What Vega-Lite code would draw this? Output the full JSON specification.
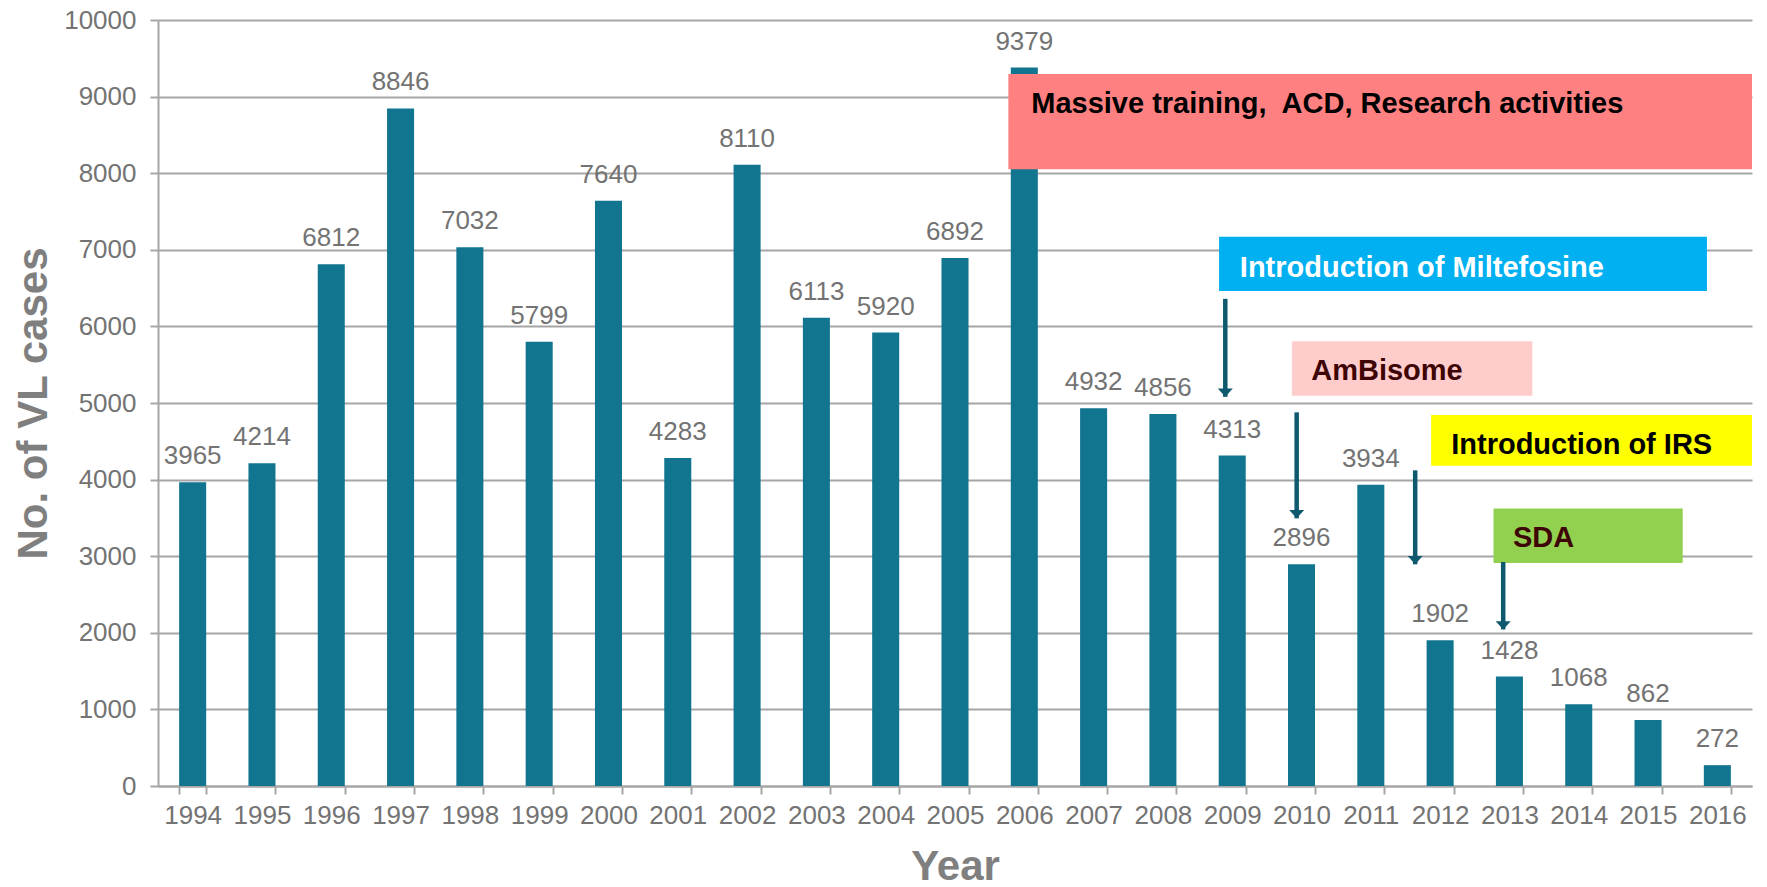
{
  "$schema": "https://vega.github.io/schema/vega-lite/v6.json",
  "width": 1594,
  "height": 766,
  "autosize": "none",
  "padding": {"left": 158, "top": 20, "right": 15, "bottom": 101},
  "background": "white",
  "config": {
    "font": "Liberation Sans",
    "view": {"stroke": null},
    "axisY": {
      "format": "d", "grid": true, "gridColor": "#a6a6a6", "gridWidth": 2,
      "labelFontSize": 26, "labelColor": "#737373", "labelPadding": 14,
      "tickSize": 8, "tickColor": "#a6a6a6", "tickWidth": 2,
      "domainColor": "#a6a6a6", "domainWidth": 2,
      "titleFontSize": 42, "titleFontWeight": "bold", "titleColor": "#7f7f7f", "titlePadding": 8
    }
  },
  "resolve": {"scale": {"x": "independent"}},
  "layer": [
    {
      "data": {"values": [
        {"Year": "1994", "Cases": 3965}, {"Year": "1995", "Cases": 4214}, {"Year": "1996", "Cases": 6812},
        {"Year": "1997", "Cases": 8846}, {"Year": "1998", "Cases": 7032}, {"Year": "1999", "Cases": 5799},
        {"Year": "2000", "Cases": 7640}, {"Year": "2001", "Cases": 4283}, {"Year": "2002", "Cases": 8110},
        {"Year": "2003", "Cases": 6113}, {"Year": "2004", "Cases": 5920}, {"Year": "2005", "Cases": 6892},
        {"Year": "2006", "Cases": 9379}, {"Year": "2007", "Cases": 4932}, {"Year": "2008", "Cases": 4856},
        {"Year": "2009", "Cases": 4313}, {"Year": "2010", "Cases": 2896}, {"Year": "2011", "Cases": 3934},
        {"Year": "2012", "Cases": 1902}, {"Year": "2013", "Cases": 1428}, {"Year": "2014", "Cases": 1068},
        {"Year": "2015", "Cases": 862}, {"Year": "2016", "Cases": 272}
      ]},
      "encoding": {
        "x": {
          "field": "Year", "type": "nominal", "sort": null,
          "scale": {"paddingInner": 0.61, "paddingOuter": 0.305},
          "axis": {
            "title": "Year", "labelAngle": 0, "tickBand": "extent", "grid": false,
            "labelFontSize": 26, "labelColor": "#737373", "labelPadding": 8,
            "tickSize": 8, "tickColor": "#a6a6a6", "tickWidth": 2,
            "domainColor": "#a6a6a6", "domainWidth": 2,
            "titleFontSize": 42, "titleFontWeight": "bold", "titleColor": "#7f7f7f", "titlePadding": 18
          }
        },
        "y": {
          "field": "Cases", "type": "quantitative", "title": "No. of VL cases",
          "scale": {"domain": [0, 10000], "nice": false},
          "axis": {"values": [0, 1000, 2000, 3000, 4000, 5000, 6000, 7000, 8000, 9000, 10000]}
        }
      },
      "layer": [
        {"mark": {"type": "bar", "color": "#11758f"}},
        {
          "mark": {"type": "text", "fontSize": 26, "color": "#737373", "baseline": "alphabetic", "dy": -18},
          "encoding": {"text": {"field": "Cases", "type": "quantitative", "format": "d"}}
        }
      ]
    },
    {
      "data": {"values": [
        {"x1": 2005.77, "x2": 2016.5, "y1": 8052, "y2": 9294, "fill": "#ff8080"},
        {"x1": 2008.81, "x2": 2015.85, "y1": 6462, "y2": 7169, "fill": "#00b0f0"},
        {"x1": 2009.86, "x2": 2013.33, "y1": 5095, "y2": 5805, "fill": "#ffcccc"},
        {"x1": 2011.87, "x2": 2016.5, "y1": 4180, "y2": 4842, "fill": "#ffff00"},
        {"x1": 2012.77, "x2": 2015.5, "y1": 2912, "y2": 3622, "fill": "#92d050"}
      ]},
      "mark": {"type": "rect"},
      "encoding": {
        "x": {"field": "x1", "type": "quantitative", "scale": {"domain": [1993.5, 2016.5], "nice": false, "zero": false}, "axis": null},
        "x2": {"field": "x2"},
        "y": {"field": "y1", "type": "quantitative", "title": "No. of VL cases",
              "axis": {"values": [0, 1000, 2000, 3000, 4000, 5000, 6000, 7000, 8000, 9000, 10000]}},
        "y2": {"field": "y2"},
        "fill": {"field": "fill", "type": "nominal", "scale": null}
      }
    },
    {
      "data": {"values": [
        {"x": 2006.1, "y": 8789, "label": "Massive training,\u00a0 ACD, Research activities", "color": "#000000"},
        {"x": 2009.11, "y": 6643, "label": "Introduction of Miltefosine", "color": "#ffffff"},
        {"x": 2010.14, "y": 5300, "label": "AmBisome", "color": "#3d0505"},
        {"x": 2012.16, "y": 4335, "label": "Introduction of IRS", "color": "#000000"},
        {"x": 2013.05, "y": 3115, "label": "SDA", "color": "#3d0505"}
      ]},
      "mark": {"type": "text", "align": "left", "baseline": "alphabetic", "fontSize": 29, "fontWeight": "bold"},
      "encoding": {
        "x": {"field": "x", "type": "quantitative", "scale": {"domain": [1993.5, 2016.5], "nice": false, "zero": false}, "axis": null},
        "y": {"field": "y", "type": "quantitative", "title": "No. of VL cases",
              "axis": {"values": [0, 1000, 2000, 3000, 4000, 5000, 6000, 7000, 8000, 9000, 10000]}},
        "text": {"field": "label"},
        "color": {"field": "color", "type": "nominal", "scale": null}
      }
    },
    {
      "data": {"values": [
        {"x": 2008.9, "top": 6360, "tip": 5081},
        {"x": 2009.93, "top": 4878, "tip": 3494},
        {"x": 2011.64, "top": 4121, "tip": 2894},
        {"x": 2012.91, "top": 2924, "tip": 2044}
      ]},
      "layer": [
        {
          "mark": {"type": "rule", "color": "#0e596d", "strokeWidth": 4.5},
          "encoding": {
            "x": {"field": "x", "type": "quantitative", "scale": {"domain": [1993.5, 2016.5], "nice": false, "zero": false}, "axis": null},
            "y": {"field": "top", "type": "quantitative", "title": "No. of VL cases",
                  "axis": {"values": [0, 1000, 2000, 3000, 4000, 5000, 6000, 7000, 8000, 9000, 10000]}},
            "y2": {"field": "tip"}
          }
        },
        {
          "mark": {"type": "point", "shape": "M-1,-1.1L0,0L1,-1.1Z", "size": 225, "filled": true, "opacity": 1, "color": "#0e596d"},
          "encoding": {
            "x": {"field": "x", "type": "quantitative", "scale": {"domain": [1993.5, 2016.5], "nice": false, "zero": false}, "axis": null},
            "y": {"field": "tip", "type": "quantitative", "title": "No. of VL cases",
                  "axis": {"values": [0, 1000, 2000, 3000, 4000, 5000, 6000, 7000, 8000, 9000, 10000]}}
          }
        }
      ]
    }
  ]
}
